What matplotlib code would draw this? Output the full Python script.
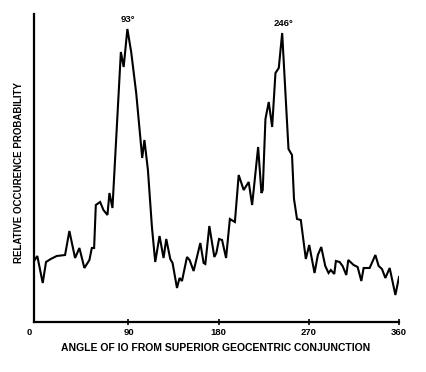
import matplotlib
matplotlib.use("Agg")
import matplotlib.pyplot as plt
from matplotlib.transforms import ScaledTranslation

# angle of Io (deg) and relative occurrence probability (arbitrary units)
angle = [-3.6, -1.0, 4.4, 7.7, 12.4, 18.4, 26.7, 31.0, 36.7, 41.0, 46.0, 51.0,
         53.4, 55.7, 57.4, 61.7, 65.0, 69.0, 71.0, 74.0, 82.4, 85.2, 88.9,
         92.7, 97.7, 103.7, 105.9, 109.4, 113.4, 116.7, 121.0, 125.0, 127.7,
         131.7, 134.0, 138.4, 141.0, 143.4, 148.4, 151.0, 155.0, 161.7, 165.0,
         166.7, 170.7, 175.7, 177.7, 180.4, 183.4, 187.4, 191.2, 196.2, 200.0,
         205.0, 210.0, 213.4, 216.0, 219.4, 222.7, 224.0, 226.7, 230.0, 233.4,
         236.7, 240.0, 243.4, 249.7, 253.2, 255.2, 258.2, 262.0, 267.0, 270.4,
         275.7, 279.0, 282.4, 286.4, 289.7, 292.0, 295.4, 297.0, 300.7, 303.7,
         307.4, 309.4, 314.7, 318.7, 322.4, 324.7, 330.7, 336.4, 339.7, 343.0,
         346.4, 350.7, 356.4, 360.0]
prob = [62, 66, 39, 60, 63, 66, 67, 91, 64, 74, 54, 62,
        74, 74, 117, 120, 112, 107, 129, 114, 270, 255, 293,
        270, 229, 164, 182, 152, 95, 60, 86, 64, 83,
        63, 59, 34, 44, 41, 65, 62, 51, 79, 59,
        58, 96, 65, 69, 83, 82, 64, 103, 100, 147,
        132, 140, 117, 142, 175, 129, 132, 203, 220, 195,
        249, 254, 289, 173, 167, 123, 103, 102, 63, 77,
        49, 67, 75, 56, 49, 52, 48, 61, 60, 56,
        47, 62, 57, 55, 41, 54, 54, 67, 56, 53,
        44, 54, 27, 45]

peaks = [(89.2, 303, "93°"), (244.7, 299, "246°")]
xticks = [0, 90, 180, 270, 360]

plt.rcParams["font.family"] = ["Liberation Sans", "DejaVu Sans"]
plt.rcParams["font.weight"] = "bold"

fig = plt.figure(figsize=(4.26, 3.72), dpi=100)
ax = fig.add_axes([34 / 426, 50 / 372, 365 / 426, 308 / 372])
ax.plot(angle, prob, color="black", lw=1.5, solid_joinstyle="miter")
ax.set_xlim(-4.3, 360)
ax.set_ylim(0, 308)

for x, y, s in peaks:
    ax.text(x, y, s, ha="center", va="center", fontsize=6.8, fontweight="bold")

for side in ("top", "right"):
    ax.spines[side].set_visible(False)
for side in ("left", "bottom"):
    ax.spines[side].set_linewidth(1.6)
ax.set_yticks([])
ax.set_xticks(xticks)
ax.set_xticklabels([str(t) for t in xticks])
ax.tick_params(axis="x", direction="inout", length=5, width=1.2, pad=2,
               labelsize=6.8)
for lab in ax.get_xticklabels():
    lab.set_fontweight("bold")
# the "0" label sits left of the axis origin in the original, with no mark
ax.xaxis.get_major_ticks()[0].tick1line.set_visible(False)
zero = ax.get_xticklabels()[0]
zero.set_transform(zero.get_transform()
                   + ScaledTranslation(-9 / 100, 0, fig.dpi_scale_trans))

ax.text(-0.041, 0.487, "RELATIVE OCCURENCE PROBABILITY", transform=ax.transAxes,
        rotation=90, ha="center", va="center", fontsize=7, fontweight="bold")
fig.text(0.507, 1 - 348 / 372, "ANGLE OF IO FROM SUPERIOR GEOCENTRIC CONJUNCTION",
         ha="center", va="center", fontsize=7.5, fontweight="bold")

fig.savefig("out.png", dpi=100)
